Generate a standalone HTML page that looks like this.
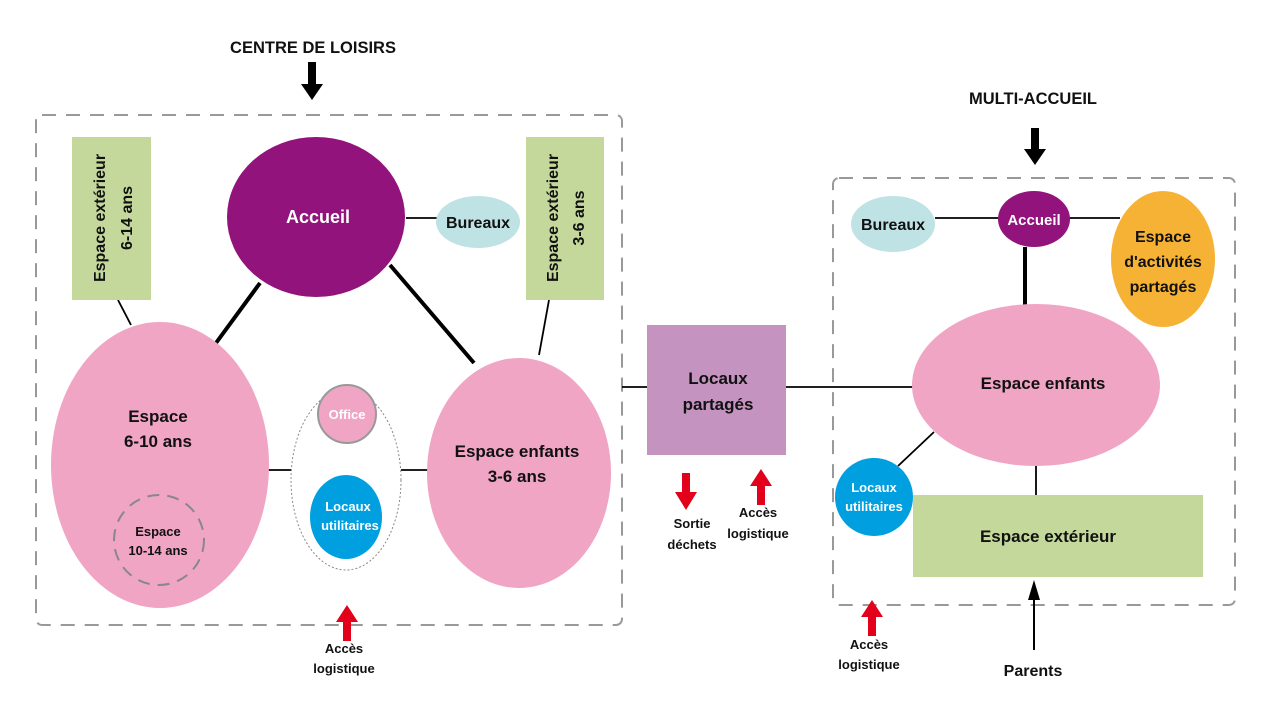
<!DOCTYPE html>
<html><head><meta charset="utf-8"><style>
html,body{margin:0;padding:0;background:#fff;}
svg{display:block;}
text{font-family:"Liberation Sans",sans-serif;font-weight:bold;text-anchor:middle;}
</style></head><body>
<svg width="1271" height="719" viewBox="0 0 1271 719" xmlns="http://www.w3.org/2000/svg">
<rect x="36" y="115" width="586" height="510" rx="6" fill="none" stroke="#999" stroke-width="2" stroke-dasharray="14,10"/>
<rect x="833" y="178" width="402" height="427" rx="6" fill="none" stroke="#999" stroke-width="2" stroke-dasharray="14,10"/>

<line x1="260" y1="283" x2="216" y2="343" stroke="#000" stroke-width="4"/>
<line x1="390" y1="265" x2="474" y2="363" stroke="#000" stroke-width="4"/>
<line x1="118" y1="300" x2="131" y2="325" stroke="#000" stroke-width="1.8"/>
<line x1="549" y1="300" x2="539" y2="355" stroke="#000" stroke-width="1.8"/>
<line x1="406" y1="218" x2="438" y2="218" stroke="#000" stroke-width="1.8"/>
<line x1="268" y1="470" x2="293" y2="470" stroke="#000" stroke-width="1.8"/>
<line x1="401" y1="470" x2="428" y2="470" stroke="#000" stroke-width="1.8"/>
<line x1="622" y1="387" x2="647" y2="387" stroke="#000" stroke-width="1.8"/>
<line x1="786" y1="387" x2="914" y2="387" stroke="#000" stroke-width="1.8"/>
<line x1="935" y1="218" x2="1120" y2="218" stroke="#000" stroke-width="1.8"/>
<line x1="1025" y1="247" x2="1025" y2="322" stroke="#000" stroke-width="4"/>
<line x1="934" y1="432" x2="898" y2="466" stroke="#000" stroke-width="1.8"/>
<line x1="1036" y1="464" x2="1036" y2="496" stroke="#000" stroke-width="1.8"/>

<rect x="72" y="137" width="79" height="163" fill="#c4d89b"/>
<text transform="translate(105,218) rotate(-90)" font-size="16" fill="#111">Espace extérieur</text>
<text transform="translate(132,218) rotate(-90)" font-size="16" fill="#111">6-14 ans</text>
<rect x="526" y="137" width="78" height="163" fill="#c4d89b"/>
<text transform="translate(558,218) rotate(-90)" font-size="16" fill="#111">Espace extérieur</text>
<text transform="translate(584,218) rotate(-90)" font-size="16" fill="#111">3-6 ans</text>

<ellipse cx="316" cy="217" rx="89" ry="80" fill="#92137b"/>
<text x="318" y="223" font-size="18" fill="#fff">Accueil</text>
<ellipse cx="478" cy="222" rx="42" ry="26" fill="#bfe2e5"/>
<text x="478" y="228" font-size="16" fill="#111">Bureaux</text>

<ellipse cx="160" cy="465" rx="109" ry="143" fill="#f0a5c4"/>
<text x="158" y="422" font-size="17" fill="#111">Espace</text>
<text x="158" y="447" font-size="17" fill="#111">6-10 ans</text>
<circle cx="159" cy="540" r="45" fill="none" stroke="#888" stroke-width="2" stroke-dasharray="12,8"/>
<text x="158" y="536" font-size="13" fill="#111">Espace</text>
<text x="158" y="555" font-size="13" fill="#111">10-14 ans</text>

<ellipse cx="346" cy="480" rx="55" ry="90" fill="#fff" stroke="#888" stroke-width="1" stroke-dasharray="2,2"/>
<circle cx="347" cy="414" r="29" fill="#f0a5c4" stroke="#999" stroke-width="2"/>
<text x="347" y="419" font-size="13" fill="#fff">Office</text>
<ellipse cx="346" cy="517" rx="36" ry="42" fill="#009fe0"/>
<text x="348" y="511" font-size="13" fill="#fff">Locaux</text>
<text x="350" y="530" font-size="13" fill="#fff">utilitaires</text>

<ellipse cx="519" cy="473" rx="92" ry="115" fill="#f0a5c4"/>
<text x="517" y="457" font-size="17" fill="#111">Espace enfants</text>
<text x="517" y="482" font-size="17" fill="#111">3-6 ans</text>

<rect x="647" y="325" width="139" height="130" fill="#c493c0"/>
<text x="718" y="384" font-size="17" fill="#111">Locaux</text>
<text x="718" y="410" font-size="17" fill="#111">partagés</text>

<ellipse cx="893" cy="224" rx="42" ry="28" fill="#bfe2e5"/>
<text x="893" y="230" font-size="16" fill="#111">Bureaux</text>
<ellipse cx="1034" cy="219" rx="36" ry="28" fill="#92137b"/>
<text x="1034" y="225" font-size="15" fill="#fff">Accueil</text>
<ellipse cx="1163" cy="259" rx="52" ry="68" fill="#f6b234"/>
<text x="1163" y="242" font-size="16" fill="#111">Espace</text>
<text x="1163" y="267" font-size="16" fill="#111">d'activités</text>
<text x="1163" y="292" font-size="16" fill="#111">partagés</text>
<ellipse cx="1036" cy="385" rx="124" ry="81" fill="#f0a5c4"/>
<text x="1043" y="389" font-size="17" fill="#111">Espace enfants</text>
<rect x="913" y="495" width="290" height="82" fill="#c4d89b"/>
<text x="1048" y="542" font-size="17" fill="#111">Espace extérieur</text>
<circle cx="874" cy="497" r="39" fill="#009fe0"/>
<text x="874" y="492" font-size="13" fill="#fff">Locaux</text>
<text x="874" y="511" font-size="13" fill="#fff">utilitaires</text>

<text x="313" y="53" font-size="16.5" fill="#111">CENTRE DE LOISIRS</text>
<polygon points="308,62 316,62 316,84 323,84 312,100 301,84 308,84" fill="#000"/>
<text x="1033" y="104" font-size="16.5" fill="#111">MULTI-ACCUEIL</text>
<polygon points="1031,128 1039,128 1039,149 1046,149 1035,165 1024,149 1031,149" fill="#000"/>
<line x1="1034" y1="650" x2="1034" y2="596" stroke="#000" stroke-width="2"/>
<polygon points="1034,580 1040,600 1028,600" fill="#000"/>
<text x="1033" y="676" font-size="16" fill="#111">Parents</text>

<polygon points="682,473 690,473 690,492 697,492 686,510 675,492 682,492" fill="#e2001a"/>
<polygon points="757,505 765,505 765,486 772,486 761,469 750,486 757,486" fill="#e2001a"/>
<polygon points="343,641 351,641 351,622 358,622 347,605 336,622 343,622" fill="#e2001a"/>
<polygon points="868,636 876,636 876,617 883,617 872,600 861,617 868,617" fill="#e2001a"/>

<text x="692" y="528" font-size="13" fill="#111">Sortie</text>
<text x="692" y="549" font-size="13" fill="#111">déchets</text>
<text x="758" y="517" font-size="13" fill="#111">Accès</text>
<text x="758" y="538" font-size="13" fill="#111">logistique</text>
<text x="344" y="653" font-size="13" fill="#111">Accès</text>
<text x="344" y="673" font-size="13" fill="#111">logistique</text>
<text x="869" y="649" font-size="13" fill="#111">Accès</text>
<text x="869" y="669" font-size="13" fill="#111">logistique</text>
</svg>
</body></html>
